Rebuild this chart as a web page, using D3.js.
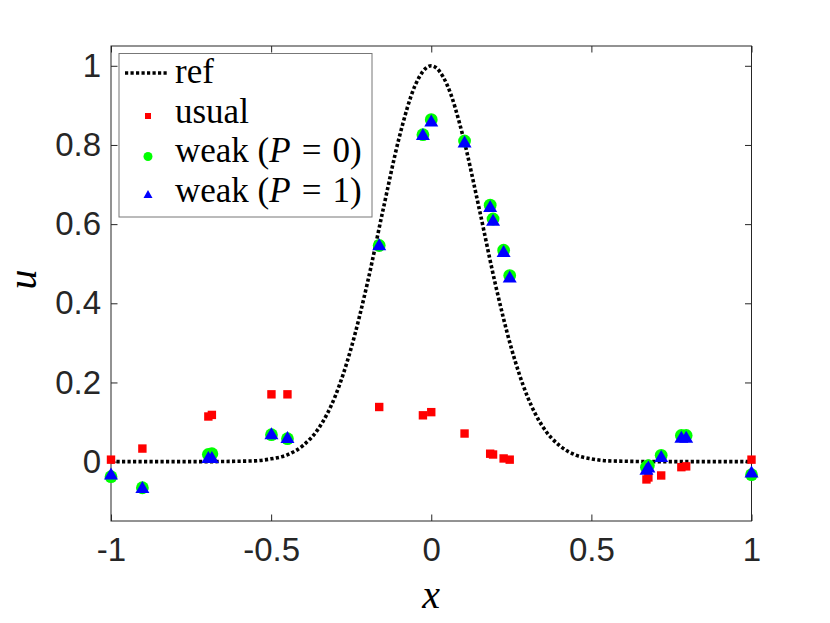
<!DOCTYPE html>
<html>
<head>
<meta charset="utf-8">
<script src="https://cdn.jsdelivr.net/npm/d3@7"></script>
<style>
  body { margin: 0; background: #fff; }
  svg { display: block; }
</style>
</head>
<body>
<div id="chart"></div>
<script>
// sample positions shared by the three numerical solutions
var xs = [-1, -0.902, -0.696, -0.685, -0.499, -0.449, -0.1625, -0.026, 0.0, 0.104,
          0.184, 0.193, 0.226, 0.245, 0.672, 0.678, 0.718, 0.781, 0.796, 1];

var usual = [0.005, 0.033, 0.114, 0.118, 0.170, 0.170, 0.138, 0.117, 0.125, 0.071,
             0.020, 0.018, 0.008, 0.005, -0.045, -0.040, -0.035, -0.014, -0.012, 0.005];

var weak0 = [-0.038, -0.066, 0.018, 0.020, 0.068, 0.058, 0.546, 0.826, 0.864, 0.810,
             0.648, 0.613, 0.534, 0.470, -0.014, -0.010, 0.016, 0.066, 0.066, -0.033];

var weak1 = [-0.030, -0.064, 0.012, 0.012, 0.072, 0.062, 0.549, 0.828, 0.862, 0.809,
             0.646, 0.611, 0.532, 0.468, -0.018, -0.012, 0.014, 0.063, 0.063, -0.025];

// reference curve
var refX = [-1, -0.8, -0.7, -0.6, -0.55, -0.5, -0.45, -0.4, -0.35, -0.3, -0.25, -0.2, -0.15, -0.1, -0.05,
            0, 0.05, 0.1, 0.15, 0.2, 0.25, 0.3, 0.35, 0.4, 0.45, 0.5, 0.55, 0.6, 0.7, 0.8, 1];
var refU = [0, 0, 0, 0.001, 0.002, 0.007, 0.017, 0.041, 0.086, 0.165, 0.287, 0.449, 0.638, 0.819, 0.951,
            1, 0.951, 0.819, 0.638, 0.449, 0.287, 0.165, 0.086, 0.041, 0.017, 0.007, 0.002, 0.001, 0, 0, 0];

var xTicks = [-1, -0.5, 0, 0.5, 1];
var yTicks = [0, 0.2, 0.4, 0.6, 0.8, 1];

var W = 830, H = 623;
var svg = d3.select("#chart").append("svg")
    .attr("width", W)
    .attr("height", H);

var x = d3.scaleLinear().domain([-1, 1]).range([111, 751.5]);
var y = d3.scaleLinear().domain([-0.15, 1.05]).range([521, 46]);

var axisColor = "#262626";
var tickFont = "'Liberation Sans', Arial, Helvetica, sans-serif";
var serif = "'Liberation Serif', 'Times New Roman', serif";

// ticks on all four sides, pointing in
var tl = 6.5;
var xAxisB = d3.axisBottom(x).tickValues(xTicks).tickSizeInner(-tl).tickSizeOuter(0)
    .tickPadding(17).tickFormat(d => String(d));
var xAxisT = d3.axisTop(x).tickValues(xTicks).tickSizeInner(-tl).tickSizeOuter(0).tickFormat("");
var yAxisL = d3.axisLeft(y).tickValues(yTicks).tickSizeInner(-tl).tickSizeOuter(0)
    .tickPadding(10).tickFormat(d => String(d));
var yAxisR = d3.axisRight(y).tickValues(yTicks).tickSizeInner(-tl).tickSizeOuter(0).tickFormat("");

function styleAxis(g) {
    g.select(".domain").remove();
    g.selectAll(".tick line").attr("stroke", axisColor).attr("stroke-width", 1);
    g.selectAll(".tick text")
        .attr("fill", axisColor)
        .style("font-family", tickFont)
        .style("font-size", "33px");
}

svg.append("g").attr("transform", "translate(0," + y(-0.15) + ")").call(xAxisB).call(styleAxis);
svg.append("g").attr("transform", "translate(0," + y(1.05) + ")").call(xAxisT).call(styleAxis);
svg.append("g").attr("transform", "translate(" + x(-1) + ",0)").call(yAxisL).call(styleAxis);
svg.append("g").attr("transform", "translate(" + x(1) + ",0)").call(yAxisR).call(styleAxis);

// box
svg.append("rect")
    .attr("x", x(-1)).attr("y", y(1.05))
    .attr("width", x(1) - x(-1)).attr("height", y(-0.15) - y(1.05))
    .attr("fill", "none").attr("stroke", axisColor).attr("stroke-width", 1);

// axis labels
svg.append("text")
    .attr("x", x(0)).attr("y", 608)
    .attr("text-anchor", "middle")
    .style("font-family", serif).style("font-style", "italic").style("font-size", "40px")
    .text("x");

svg.append("text")
    .attr("transform", "translate(36," + y(0.46) + ") rotate(-90)")
    .attr("text-anchor", "middle")
    .style("font-family", serif).style("font-style", "italic").style("font-size", "40px")
    .text("u");

// reference line
var line = d3.line()
    .x(d => x(d[0]))
    .y(d => y(d[1]))
    .curve(d3.curveMonotoneX);

svg.append("path")
    .datum(d3.zip(refX, refU))
    .attr("d", line)
    .attr("fill", "none")
    .attr("stroke", "#000")
    .attr("stroke-width", 3.6)
    .attr("stroke-dasharray", "3.2,2.3");

var triPath = "M0,-6L7,6L-7,6Z";

// usual
svg.append("g").selectAll("rect")
    .data(d3.zip(xs, usual))
    .enter()
    .append("rect")
    .attr("x", d => x(d[0]) - 4.2)
    .attr("y", d => y(d[1]) - 4.2)
    .attr("width", 8.4).attr("height", 8.4)
    .attr("fill", "#ff0000");

// weak P=0
svg.append("g").selectAll("circle")
    .data(d3.zip(xs, weak0))
    .enter()
    .append("circle")
    .attr("cx", d => x(d[0]))
    .attr("cy", d => y(d[1]))
    .attr("r", 6.4)
    .attr("fill", "#00ff00");

// weak P=1
svg.append("g").selectAll("path")
    .data(d3.zip(xs, weak1))
    .enter()
    .append("path")
    .attr("d", triPath)
    .attr("transform", d => "translate(" + x(d[0]) + "," + y(d[1]) + ")")
    .attr("fill", "#0000ff");

// legend
var leg = svg.append("g");
leg.append("rect")
    .attr("x", 119).attr("y", 53.5)
    .attr("width", 253).attr("height", 163.5)
    .attr("fill", "#fff").attr("stroke", "#777").attr("stroke-width", 1);

leg.append("line")
    .attr("x1", 125).attr("x2", 169).attr("y1", 73).attr("y2", 73)
    .attr("stroke", "#000").attr("stroke-width", 3.6).attr("stroke-dasharray", "3.2,2.3");

leg.append("rect").attr("x", 145).attr("y", 113).attr("width", 6).attr("height", 6).attr("fill", "#ff0000");
leg.append("circle").attr("cx", 148).attr("cy", 156.5).attr("r", 4.5).attr("fill", "#00ff00");
leg.append("path").attr("d", "M0,-4L4.5,4L-4.5,4Z").attr("transform", "translate(148,194)").attr("fill", "#0000ff");

var legText = [
    { y: 83, parts: [["ref", "normal", 0]] },
    { y: 123, parts: [["usual", "normal", 0]] },
    { y: 162, parts: [["weak (", "normal", 0], ["P", "italic", 0], ["=", "normal", 11], ["0)", "normal", 11]] },
    { y: 202, parts: [["weak (", "normal", 0], ["P", "italic", 0], ["=", "normal", 11], ["1)", "normal", 11]] }
];

legText.forEach(function(row) {
    var t = leg.append("text")
        .attr("x", 175).attr("y", row.y)
        .style("font-family", serif).style("font-size", "35px");
    row.parts.forEach(function(p) {
        t.append("tspan").attr("dx", p[2]).style("font-style", p[1]).text(p[0]);
    });
});
</script>
</body>
</html>
